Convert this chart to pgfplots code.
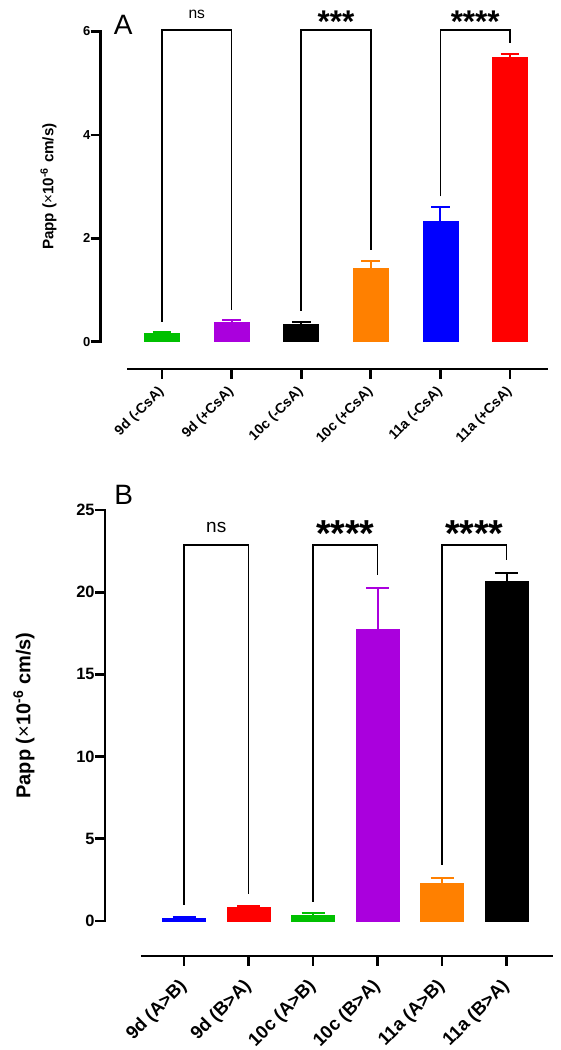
\documentclass[border=0pt]{standalone}
\usepackage{pgfplots}
\pgfplotsset{compat=1.18}
\usepackage{fontspec}
\setmainfont{Liberation Sans}
\definecolor{cgreen}{RGB}{0,192,0}
\definecolor{cpurple}{RGB}{170,0,221}
\definecolor{corange}{RGB}{255,128,0}
\definecolor{cblue}{RGB}{0,0,255}
\definecolor{cred}{RGB}{255,0,0}
\definecolor{cblack}{RGB}{0,0,0}
\pgfplotsset{
  prism/.style={
    scale only axis, clip=false,
    axis lines=left, axis line style={draw=none},
    tick align=outside, major tick length=5pt,
    tick style={line width=1.35pt, black},
    /pgf/number format/assume math mode=true,
    xtick={0,...,5}, minor tick num=0,
    yticklabel style={anchor=east, inner sep=0pt},
    xticklabel style={rotate=45, anchor=east, inner sep=0pt},
  },
  barA/.style={ybar, bar shift=0pt, bar width=17.5pt, fill=#1, draw=#1, line width=0.3pt,
    error bars/.cd, y dir=plus, y explicit,
    error bar style={line width=1pt, #1},
    error mark options={rotate=90, line width=1pt, #1, mark size=4.7pt}},
  barB/.style={ybar, bar shift=0pt, bar width=21.5pt, fill=#1, draw=#1, line width=0.3pt,
    error bars/.cd, y dir=plus, y explicit,
    error bar style={line width=1pt, #1},
    error mark options={rotate=90, line width=1pt, #1, mark size=5.75pt}},
}
\begin{document}
\begin{tikzpicture}
\useasboundingbox (0,0) rectangle (280.5pt,525pt);
% ---------------- Panel A ----------------
\begin{axis}[prism, at={(50.35pt,340.5pt)}, anchor=south west,
  width=223.8pt, height=168.75pt,
  xmin=-0.88, xmax=5.55, ymin=-0.528, ymax=6,
  ytick={0,2,4,6},
  yticklabel style={font=\bfseries\fontsize{6.5}{7}\selectfont},
  xticklabel style={font=\bfseries\fontsize{7}{8}\selectfont},
  xticklabel shift=5.2pt,
  xticklabels={{9d (-CsA)},{9d (+CsA)},{10c (-CsA)},{10c (+CsA)},{11a (-CsA)},{11a (+CsA)}},
  ylabel={Papp ({\mdseries ×}10\textsuperscript{-6} cm/s)},
  every axis y label/.style={at={(axis cs:-1.63,3)}, rotate=90, anchor=center,
    font=\bfseries\fontsize{7.6}{9}\selectfont},
]
\addplot[barA=cgreen]  coordinates {(0,0.16)  +- (0,0.03)};
\addplot[barA=cpurple] coordinates {(1,0.37)  +- (0,0.05)};
\addplot[barA=cblack]  coordinates {(2,0.335) +- (0,0.05)};
\addplot[barA=corange] coordinates {(3,1.41)  +- (0,0.15)};
\addplot[barA=cblue]   coordinates {(4,2.32)  +- (0,0.28)};
\addplot[barA=cred]    coordinates {(5,5.51)  +- (0,0.06)};
\draw[line width=1.35pt, line cap=rect] (axis cs:-0.88,0) -- (axis cs:-0.88,6);
\draw[line width=1.35pt] (axis cs:-0.5,-0.528) -- (axis cs:5.55,-0.528);
\draw[line width=0.9pt] (axis cs:0,0.385) -- (axis cs:0,6.03) -- (axis cs:1,6.03) -- (axis cs:1,0.62);
\draw[line width=0.9pt] (axis cs:2,0.60) -- (axis cs:2,6.03) -- (axis cs:3,6.03) -- (axis cs:3,1.77);
\draw[line width=0.9pt] (axis cs:4,2.81) -- (axis cs:4,6.03) -- (axis cs:5,6.03) -- (axis cs:5,5.77);
\node[anchor=base, inner sep=0pt, font=\fontsize{7.8}{9}\selectfont] at (axis cs:0.5,6.255) {ns};
\node[anchor=base, inner sep=0pt, font=\bfseries\fontsize{15.7}{16}\selectfont] at (axis cs:2.5,5.98) {***};
\node[anchor=base, inner sep=0pt, font=\bfseries\fontsize{15.7}{16}\selectfont] at (axis cs:4.5,5.98) {****};
\node[anchor=center, inner sep=0pt, font=\fontsize{14}{15}\selectfont] at (axis cs:-0.556,6.12) {A};
\end{axis}
% ---------------- Panel B ----------------
\begin{axis}[prism, at={(52.5pt,47pt)}, anchor=south west,
  width=224pt, height=223pt,
  xmin=-1.225, xmax=5.72, ymin=-2.13, ymax=25,
  ytick={0,5,10,15,20,25},
  yticklabel style={font=\bfseries\fontsize{8.2}{9}\selectfont},
  xticklabel style={font=\bfseries\fontsize{9.2}{10}\selectfont},
  xticklabel shift=8.7pt,
  xticklabels={{9d (A>B)},{9d (B>A)},{10c (A>B)},{10c (B>A)},{11a (A>B)},{11a (B>A)}},
  ylabel={Papp ({\mdseries ×}10\textsuperscript{-6} cm/s)},
  every axis y label/.style={at={(axis cs:-2.48,12.5)}, rotate=90, anchor=center,
    font=\bfseries\fontsize{10}{12}\selectfont},
]
\addplot[barB=cblue]   coordinates {(0,0.14)  +- (0,0.10)};
\addplot[barB=cred]    coordinates {(1,0.84)  +- (0,0.10)};
\addplot[barB=cgreen]  coordinates {(2,0.36)  +- (0,0.10)};
\addplot[barB=cpurple] coordinates {(3,17.75) +- (0,2.5)};
\addplot[barB=corange] coordinates {(4,2.31)  +- (0,0.31)};
\addplot[barB=cblack]  coordinates {(5,20.64) +- (0,0.55)};
\draw[line width=1.35pt, line cap=rect] (axis cs:-1.225,0) -- (axis cs:-1.225,25);
\draw[line width=1.35pt] (axis cs:-0.667,-2.13) -- (axis cs:5.72,-2.13);
\draw[line width=0.9pt] (axis cs:0,0.99) -- (axis cs:0,22.87) -- (axis cs:1,22.87) -- (axis cs:1,1.64);
\draw[line width=0.9pt] (axis cs:2,1.17) -- (axis cs:2,22.87) -- (axis cs:3,22.87) -- (axis cs:3,21.05);
\draw[line width=0.9pt] (axis cs:4,3.41) -- (axis cs:4,22.87) -- (axis cs:5,22.87) -- (axis cs:5,21.96);
\node[anchor=base, inner sep=0pt, font=\fontsize{9.5}{11}\selectfont] at (axis cs:0.5,23.62) {ns};
\node[anchor=base, inner sep=0pt, font=\bfseries\fontsize{18.8}{19}\selectfont] at (axis cs:2.5,22.75) {****};
\node[anchor=base, inner sep=0pt, font=\bfseries\fontsize{18.8}{19}\selectfont] at (axis cs:4.5,22.75) {****};
\node[anchor=center, inner sep=0pt, font=\fontsize{14}{15}\selectfont] at (axis cs:-0.935,25.93) {B};
\end{axis}
\end{tikzpicture}
\end{document}
